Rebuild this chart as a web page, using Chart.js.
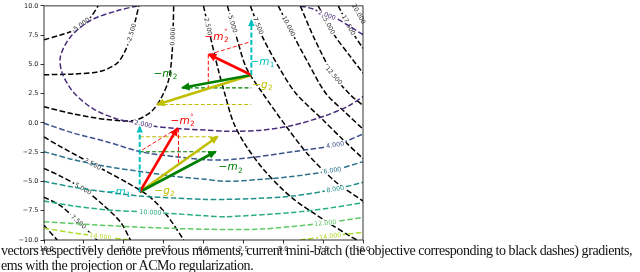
<!DOCTYPE html>
<html>
<head>
<meta charset="utf-8">
<script src="https://cdn.jsdelivr.net/npm/chart.js@4.4.1/dist/chart.umd.min.js"></script>
<style>
  html, body { margin: 0; padding: 0; background: #fff; }
  body { width: 640px; height: 272px; position: relative; overflow: hidden; }
  #wrap { position: absolute; left: 0; top: 0; width: 400px; height: 272px; }
  .caption {
    position: absolute; left: 1px; top: 244px;
    font-family: "Liberation Serif", "Times New Roman", serif;
    font-size: 14px; letter-spacing: -0.45px; line-height: 14.5px; color: #111; white-space: nowrap;
  }
</style>
</head>
<body>
<div id="wrap"><canvas id="chart" width="400" height="272"></canvas></div>
<div class="caption">vectors respectively denote previous moments, current mini-batch (the objective corresponding to black dashes) gradients,<br>ems with the projection or ACMo regularization.</div>
<script>
// axis ticks (both axes run -10 .. 10)
const tickValues = [-10, -7.5, -5, -2.5, 0, 2.5, 5, 7.5, 10];

// black dashed contours of the objective (x, y)
const obj_m5 = [[-10, 7.1], [-9, 7.5], [-8.15, 7.9], [-7.6, 8.45], [-7.1, 9.0], [-6.6, 10]];
const obj_m2_5 = [[-10, 4.12], [-8.13, 4.18], [-6.46, 4.41], [-5.41, 5.11], [-4.89, 6.22], [-4.58, 7.35], [-4.27, 8.75], [-4.06, 10]];
const obj_0 = [[-10, 1.38], [-8.13, 0.76], [-6.04, 0.29], [-4.37, 0.2], [-3.33, 0.9], [-2.7, 2.02], [-2.18, 3.7], [-1.97, 5.95], [-1.9, 8.19], [-1.87, 10]];
const obj_2_5a = [[0, 10], [0.43, 7.38], [0.93, 4.52], [1.37, 2.33], [1.87, 0.06], [2.63, -1.88], [3.88, -4.15], [5.57, -6.42], [7.63, -8.35], [9.32, -9.78], [9.64, -10]];
const obj_2_5b = [[-10, -1.2], [-8.97, -2.02], [-7.09, -3.41], [-4.79, -5.1], [-3.33, -6.36], [-2.28, -7.91], [-1.24, -10]];
const obj_5a = [[1.5, 10], [2.06, 7.38], [2.69, 4.69], [3.69, 2.58], [5.13, -0.19], [6.57, -2.72], [8.26, -5.0], [10, -6.67]];
const obj_5b = [[-10, -3.89], [-8.97, -4.54], [-7.51, -5.66], [-6.25, -7.06], [-5.21, -8.46], [-4.58, -10]];
const obj_7_5a = [[2.94, 10], [3.69, 7.38], [4.69, 4.85], [5.76, 2.58], [7.45, 0.31], [8.7, -1.37], [10, -3.05]];
const obj_7_5b = [[-10, -6.33], [-8.97, -7.06], [-7.82, -8.46], [-6.67, -10]];
const obj_10a = [[4.69, 10], [5.57, 7.64], [6.57, 5.11], [7.64, 2.58], [8.89, 0.9], [10, -0.53]];
const obj_10b = [[-10, -8.75], [-9.17, -10]];
const obj_12_5 = [[6.07, 10], [6.95, 7.21], [8.14, 4.1], [9.2, 2.41], [10, 1.49]];
const obj_15 = [[7.19, 10], [8.14, 7.63], [9.2, 5.69], [10, 4.26]];
const obj_17_5 = [[8.45, 10], [9.2, 8.05], [10, 6.37]];
const obj_20 = [[9.45, 10], [10, 8.64]];

// coloured (viridis) contours of the second objective
const reg_2a = [[-4.16, 10], [-5.41, 9.59], [-7.09, 8.75], [-8.34, 7.35], [-8.97, 5.67], [-8.86, 4.26], [-8.13, 2.58], [-6.88, 1.18], [-5.41, 0.34], [-4.37, 0.06], [-3.33, -0.24], [-1.89, -0.45], [0.12, -0.61], [1.37, -0.7], [3.44, -0.64], [5.55, -0.22], [7.64, 0.62], [9.1, 1.46], [10, 2.25]];
const reg_2b = [[6.07, 10], [6.89, 9.73], [7.51, 9.31], [8.39, 8.89], [9.2, 8.22], [10, 7.54]];
const reg_4 = [[-10, -0.03], [-8.15, -0.87], [-6.02, -1.62], [-3.95, -2.46], [-1.76, -2.88], [0.12, -3.14], [1.37, -3.16], [3.44, -2.88], [5.57, -2.46], [8.26, -1.88], [10, -0.95]];
const reg_6 = [[-10, -2.46], [-8.15, -3.14], [-6.02, -3.73], [-3.95, -4.15], [-1.76, -4.57], [0.12, -4.82], [1.37, -4.99], [3.44, -4.84], [5.57, -4.57], [8.08, -4.06], [10, -3.31]];
const reg_8 = [[-10, -4.99], [-8.15, -5.49], [-6.02, -5.91], [-3.95, -6.25], [-1.76, -6.42], [0.12, -6.53], [1.37, -6.53], [3.44, -6.44], [5.57, -6.25], [8.26, -5.66], [10, -5.07]];
const reg_10 = [[-10, -6.67], [-8.15, -7.09], [-6.02, -7.43], [-3.95, -7.59], [-1.76, -7.76], [0.12, -7.93], [1.37, -8.01], [5.57, -7.65], [7.95, -7.26], [10, -6.81]];
const reg_12 = [[-10, -8.44], [-6.46, -8.73], [-3.33, -8.94], [0.12, -9.08], [3.57, -9.07], [7.64, -8.54], [10, -8.07]];
const reg_14a = [[-10, -8.98], [-8.34, -9.36], [-6.46, -9.7], [-4.58, -10]];
const reg_14b = [[6.07, -10], [7.95, -9.67], [10, -9.34]];

// inline contour labels: [level, x, y]
const objLabels = [[-5, -7.71, 8.39], [-2.5, -4.45, 7.63], [0, -1.89, 7.38], [2.5, 0.24, 8.22], [5, 1.87, 8.47],
  [7.5, 3.44, 8.3], [10, 5.01, 8.05], [12.5, 8.21, 4.1], [15, 7.51, 8.22], [17.5, 8.77, 8.13], [20, 9.39, 9.06],
  [2.5, -6.9, -3.39], [5, -7.59, -5.74], [7.5, -7.84, -8.44]];
const regLabels = [[2, -3.76, -0.03], [2, 7.77, 9.31], [4, 8.26, -1.9], [6, 8.08, -4.06], [8, 8.26, -5.66],
  [10, -3.33, -7.59], [12, 7.64, -8.54], [14, -6.46, -9.7], [14, 7.95, -9.67]];

// vectors: m1, m2 (projected), m2, g2
const vecBase = ['m', 'm', 'm', 'g'];
const vecSub = ['1', '2', '2', '2'];
const vecSup = ['', '°', '', ''];
const topOrigin = [3.0, 4.1];
const topTips = [[3.0, 8.75], [0.35, 5.85], [-1.32, 3.0], [-2.89, 1.57]];
const topLabelAt = [[3.69, 5.19], [0.81, 7.38], [-2.39, 4.18], [3.69, 3.25]];
const botOrigin = [-4.0, -5.9];
const botTips = [[-4.0, -0.34], [-1.65, -0.47], [0.75, -2.46], [0.87, -1.18]];
const botLabelAt = [[-5.33, -5.91], [-1.32, 0.14], [1.69, -3.81], [-2.45, -5.83]];

// projection guides (dashed)
const topRedProj = [[0.35, 5.85], [3.0, 6.96]];
const topRedDrop = [[0.3, 5.85], [0.3, 3.0]];
const topGreenLevel = [[-1.32, 3.0], [3.0, 3.0]];
const topYellowLevel = [[-2.89, 1.57], [3.0, 1.57]];
const botRedProj = [[-1.65, -0.47], [-4.0, -2.44]];
const botRedDrop = [[-1.57, -0.47], [-1.57, -3.39]];
const botGreenLevel = [[-4.0, -2.46], [0.75, -2.46]];
const botYellowLevel = [[-4.0, -1.18], [0.87, -1.18]];

const vecColors = ['#00bfbf', '#ff0000', '#008000', '#bfbf00'];
const viridis = { 2: '#472d7b', 4: '#3b528b', 6: '#2c728e', 8: '#21918c', 10: '#28ae80', 12: '#5ec962', 14: '#addc30' };

const toXY = (pts) => pts.map(([x, y]) => ({ x, y }));

function contour(pts, level, color) {
  return {
    data: toXY(pts), level: level, showLine: true, borderColor: color, borderWidth: 1.5,
    borderDash: [5.5, 2.5], pointRadius: 0, tension: 0.3, fill: false, order: 2, labels: []
  };
}

const objContours = [
  contour(obj_m5, -5, '#000'), contour(obj_m2_5, -2.5, '#000'), contour(obj_0, 0, '#000'),
  contour(obj_2_5a, 2.5, '#000'), contour(obj_2_5b, 2.5, '#000'), contour(obj_5a, 5, '#000'),
  contour(obj_5b, 5, '#000'), contour(obj_7_5a, 7.5, '#000'), contour(obj_7_5b, 7.5, '#000'),
  contour(obj_10a, 10, '#000'), contour(obj_10b, 10, '#000'), contour(obj_12_5, 12.5, '#000'),
  contour(obj_15, 15, '#000'), contour(obj_17_5, 17.5, '#000'), contour(obj_20, 20, '#000')
];
const regContours = [
  contour(reg_2a, 2, viridis[2]), contour(reg_2b, 2, viridis[2]), contour(reg_4, 4, viridis[4]),
  contour(reg_6, 6, viridis[6]), contour(reg_8, 8, viridis[8]), contour(reg_10, 10, viridis[10]),
  contour(reg_12, 12, viridis[12]), contour(reg_14a, 14, viridis[14]), contour(reg_14b, 14, viridis[14])
];

// hand each inline label to the nearest contour branch of the same level
function attachLabels(sets, labels) {
  labels.forEach(([level, x, y]) => {
    let best = null, bestD = Infinity;
    sets.filter((s) => s.level === level).forEach((s) => {
      s.data.forEach((p) => {
        const d = (p.x - x) ** 2 + (p.y - y) ** 2;
        if (d < bestD) { bestD = d; best = s; }
      });
    });
    if (best) best.labels.push([x, y]);
  });
}
attachLabels(objContours, objLabels);
attachLabels(regContours, regLabels);

function arrow(origin, tip, color, dashed) {
  return {
    data: toXY([origin, tip]), showLine: true, borderColor: color, borderWidth: dashed ? 2 : 2.6,
    borderDash: dashed ? [5, 2.5] : [], pointRadius: 0, tension: 0, order: 1,
    arrowHead: dashed ? { len: 7, half: 3.2 } : { len: 8.5, half: 4 }
  };
}
function guide(pts, color, width) {
  return {
    data: toXY(pts), showLine: true, borderColor: color, borderWidth: width,
    borderDash: [4, 2.2], pointRadius: 0, tension: 0, order: 1
  };
}

const vectorSets = [];
[[topOrigin, topTips], [botOrigin, botTips]].forEach(([o, tips]) => {
  tips.forEach((t, i) => vectorSets.push(arrow(o, t, vecColors[i], i === 0)));
});
const guideSets = [
  guide(topRedProj, '#ff0000', 0.9), guide(topRedDrop, '#ff0000', 1), guide(topGreenLevel, '#008000', 1.1),
  guide(topYellowLevel, '#bfbf00', 1.1), guide(botRedProj, '#ff0000', 0.9), guide(botRedDrop, '#ff0000', 1),
  guide(botGreenLevel, '#008000', 1.1), guide(botYellowLevel, '#bfbf00', 1.1)
];

function fmtTick(v) {
  return (v < 0 ? '\u2212' : '') + Math.abs(v).toFixed(1);
}

const contourPlugin = {
  id: 'contourExtras',
  afterDatasetDraw(chart, args) {
    const ds = chart.data.datasets[args.index];
    const ctx = chart.ctx;
    const pts = args.meta.data.map((p) => [p.x, p.y]);
    if (ds.labels && ds.labels.length) {
      const xs = chart.scales.x, ys = chart.scales.y;
      ds.labels.forEach(([lx, ly]) => {
        const px = xs.getPixelForValue(lx), py = ys.getPixelForValue(ly);
        // snap to the nearest segment of this branch
        let best = null, bestD = Infinity;
        for (let i = 0; i < pts.length - 1; i++) {
          const [ax, ay] = pts[i], [bx, by] = pts[i + 1];
          const dx = bx - ax, dy = by - ay;
          let t = ((px - ax) * dx + (py - ay) * dy) / (dx * dx + dy * dy || 1);
          t = Math.max(0, Math.min(1, t));
          const qx = ax + t * dx, qy = ay + t * dy;
          const d = (qx - px) ** 2 + (qy - py) ** 2;
          if (d < bestD) { bestD = d; best = { x: qx, y: qy, ang: Math.atan2(dy, dx) }; }
        }
        if (!best) return;
        let ang = best.ang;
        if (ang > Math.PI / 2) ang -= Math.PI;
        if (ang < -Math.PI / 2) ang += Math.PI;
        const text = ds.level.toFixed(3);
        ctx.save();
        ctx.translate(best.x, best.y);
        ctx.rotate(ang);
        ctx.font = '6.3px "DejaVu Sans"';
        ctx.textAlign = 'center';
        ctx.textBaseline = 'middle';
        const w = ctx.measureText(text).width;
        ctx.fillStyle = '#fff';
        ctx.fillRect(-w / 2 - 1.5, -2.6, w + 3, 5.2);
        ctx.fillStyle = ds.borderColor === '#000' ? '#333' : ds.borderColor;
        ctx.fillText(text, 0, 0.3);
        ctx.restore();
      });
    }
    if (ds.arrowHead) {
      const [ax, ay] = pts[0], [bx, by] = pts[pts.length - 1];
      const L = Math.hypot(bx - ax, by - ay) || 1;
      const ux = (bx - ax) / L, uy = (by - ay) / L;
      const h = ds.arrowHead;
      const tx = bx + ux * 1.5, ty = by + uy * 1.5;
      const cx = tx - ux * h.len, cy = ty - uy * h.len;
      ctx.save();
      ctx.fillStyle = ds.borderColor;
      ctx.beginPath();
      ctx.moveTo(tx, ty);
      ctx.lineTo(cx - uy * h.half, cy + ux * h.half);
      ctx.lineTo(cx + uy * h.half, cy - ux * h.half);
      ctx.closePath();
      ctx.fill();
      ctx.restore();
    }
  },
  afterDatasetsDraw(chart) {
    const ctx = chart.ctx;
    const xs = chart.scales.x, ys = chart.scales.y;
    const draw = (pos, i) => {
      const size = 10.5;
      const x = xs.getPixelForValue(pos[0]), y = ys.getPixelForValue(pos[1]);
      ctx.save();
      ctx.fillStyle = vecColors[i];
      ctx.textBaseline = 'alphabetic';
      ctx.textAlign = 'left';
      ctx.font = size + 'px "DejaVu Sans"';
      const wMinus = ctx.measureText('\u2212').width;
      ctx.font = 'italic ' + size + 'px "DejaVu Sans"';
      const wBase = ctx.measureText(vecBase[i]).width;
      ctx.font = (size * 0.7) + 'px "DejaVu Sans"';
      const wSmall = Math.max(ctx.measureText(vecSub[i]).width, ctx.measureText(vecSup[i]).width);
      let cx = x - (wMinus + wBase + wSmall) / 2;
      const by = y + size * 0.28;
      ctx.font = size + 'px "DejaVu Sans"';
      ctx.fillText('\u2212', cx, by);
      cx += wMinus;
      ctx.font = 'italic ' + size + 'px "DejaVu Sans"';
      ctx.fillText(vecBase[i], cx, by);
      cx += wBase + 0.3;
      ctx.font = (size * 0.7) + 'px "DejaVu Sans"';
      ctx.fillText(vecSub[i], cx, by + size * 0.2);
      if (vecSup[i]) ctx.fillText(vecSup[i], cx, by - size * 0.5);
      ctx.restore();
    };
    topLabelAt.forEach(draw);
    botLabelAt.forEach(draw);
  },
  afterDraw(chart) {
    const a = chart.chartArea, ctx = chart.ctx;
    ctx.save();
    ctx.strokeStyle = '#000';
    ctx.lineWidth = 0.8;
    ctx.strokeRect(a.left, a.top, a.right - a.left, a.bottom - a.top);
    ctx.restore();
  }
};

const axisCommon = {
  type: 'linear', min: -10, max: 10,
  border: { display: false },
  grid: { drawOnChartArea: false, drawTicks: true, tickLength: 3.5, color: '#000', lineWidth: 0.8 },
  ticks: {
    stepSize: 2.5, autoSkip: false, maxRotation: 0, padding: 2,
    color: '#222', font: { family: 'DejaVu Sans', size: 6.5 },
    callback: (v) => (tickValues.includes(v) ? fmtTick(v) : '')
  }
};

new Chart(document.getElementById('chart'), {
  type: 'scatter',
  data: { datasets: [...vectorSets, ...guideSets, ...regContours, ...objContours] },
  options: {
    responsive: false, animation: false, devicePixelRatio: 1,
    layout: { padding: { top: 2, right: 37, left: 0, bottom: 0 } },
    plugins: { legend: { display: false }, tooltip: { enabled: false } },
    scales: {
      x: { ...axisCommon, position: 'bottom', afterFit: (s) => { s.height = 32; } },
      y: { ...axisCommon, position: 'left', afterFit: (s) => { s.width = 44; } }
    }
  },
  plugins: [contourPlugin]
});
</script>
</body>
</html>
